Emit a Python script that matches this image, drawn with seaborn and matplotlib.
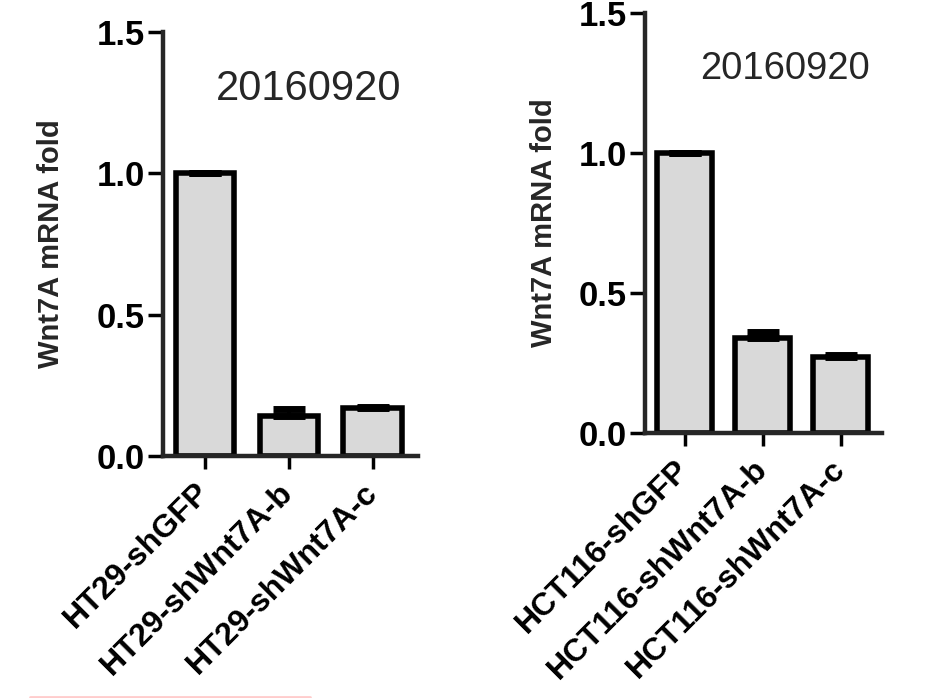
import numpy as np
import pandas as pd
import matplotlib
matplotlib.use('Agg')
import matplotlib.pyplot as plt
from matplotlib.lines import Line2D
import seaborn as sns

# 数据
ht29_groups = ['HT29-shGFP', 'HT29-shWnt7A-b', 'HT29-shWnt7A-c']
ht29_fold = [1.0, 0.14, 0.17]
ht29_err = [0.0, 0.025, 0.005]

hct116_groups = ['HCT116-shGFP', 'HCT116-shWnt7A-b', 'HCT116-shWnt7A-c']
hct116_fold = [1.0, 0.34, 0.27]
hct116_err = [0.0, 0.02, 0.008]

date_label = '20160920'
y_label = 'Wnt7A mRNA fold'
y_ticks = [0.0, 0.5, 1.0, 1.5]

sns.set_style('ticks')
plt.rcParams['font.family'] = ['Liberation Sans', 'DejaVu Sans']


def draw_panel(ax, groups, fold, err, xlim, label_x, text_xy, text_size):
    df = pd.DataFrame({'group': groups, 'fold': fold})
    sns.barplot(data=df, x='group', y='fold', ax=ax, color='#d9d9d9',
                saturation=1, edgecolor='black', linewidth=4, width=0.7,
                errorbar=None)
    # 只画向上的误差线
    ax.errorbar(np.arange(len(groups)), fold, yerr=[np.zeros(len(err)), err],
                fmt='none', ecolor='black', elinewidth=3, capsize=11.5,
                capthick=5, zorder=1)

    ax.set_ylim(0, 1.5)
    ax.set_xlim(*xlim)
    ax.set_yticks(y_ticks)
    ax.set_yticklabels(['%.1f' % t for t in y_ticks], fontsize=25, fontweight='bold')
    ax.set_xticks(range(len(groups)))
    ax.set_xticklabels(groups, rotation=45, ha='right', va='center',
                       rotation_mode='anchor', fontsize=23, fontweight='bold')
    ax.set_xlabel('')
    ax.set_ylabel(y_label, fontsize=21, fontweight='bold')
    ax.yaxis.set_label_coords(label_x, 0.5)

    for side in ['top', 'right']:
        ax.spines[side].set_visible(False)
    for side in ['left', 'bottom']:
        ax.spines[side].set_linewidth(3.2)
    ax.tick_params(axis='y', length=11, width=2.5, pad=2, colors='black')
    ax.tick_params(axis='x', length=9, width=2.5, pad=14, colors='black')

    ax.text(text_xy[0], text_xy[1], date_label, ha='center', va='center',
            fontsize=text_size)


fig = plt.figure(figsize=(9.45, 6.98), dpi=100)
ax1 = fig.add_axes([0.1725, 0.3467, 0.27, 0.6074])
ax2 = fig.add_axes([0.6825, 0.3797, 0.2508, 0.6017])

draw_panel(ax1, ht29_groups, ht29_fold, ht29_err, (-0.5, 2.54), -0.385, (1.24, 1.30), 30)
draw_panel(ax2, hct116_groups, hct116_fold, hct116_err, (-0.51, 2.53), -0.367, (1.28, 1.30), 27.5)

# 底部的浅红色细线
fig.add_artist(Line2D([30 / 945, 310 / 945], [1.5 / 698, 1.5 / 698],
                      transform=fig.transFigure, color='#ffcccc', linewidth=2))

plt.savefig('out.png', dpi=100)
